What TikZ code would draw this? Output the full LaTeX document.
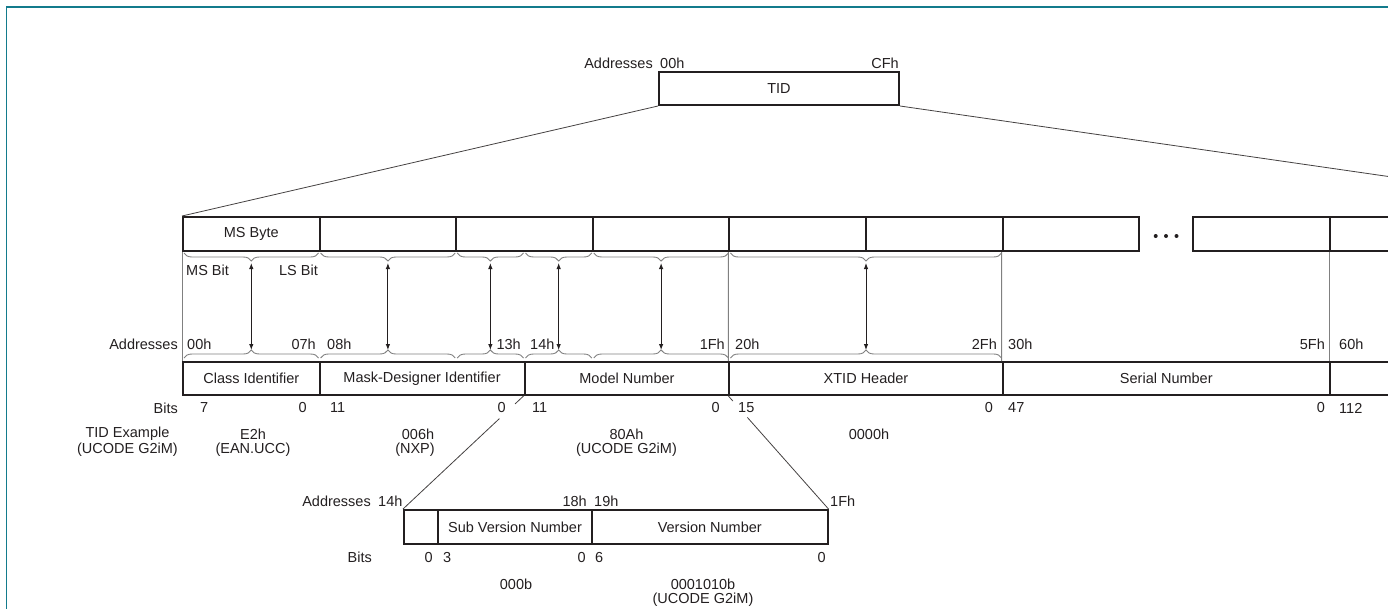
\documentclass[tikz,border=0pt]{standalone}
\usepackage{fontspec}
\setmainfont{Liberation Sans}
\usetikzlibrary{decorations.pathreplacing,calc,arrows.meta}
\definecolor{ink}{HTML}{231F20}
\definecolor{gline}{HTML}{808080}
\definecolor{framec}{HTML}{137B8C}
\begin{document}
\begin{tikzpicture}[x=1pt,y=-1pt, font=\fontsize{14.5}{17}\selectfont, text=ink,
  box/.style={draw=ink, line width=2pt, minimum height=34pt, inner sep=0pt},
  lb/.style={inner sep=0pt},
  gl/.style={draw=gline, line width=0.9pt},
  cn/.style={draw=ink!85, line width=0.8pt},
  brc/.style={draw=gline, line width=0.9pt, decorate},
  arr/.style={{Latex[length=6pt,width=4.5pt]}-{Latex[length=6pt,width=4.5pt]}, draw=ink, line width=0.9pt},
  framel/.style={draw=framec, line width=1.6pt}]
\useasboundingbox (0,0) rectangle (1388,608);
\clip (0,0) rectangle (1388,608);
% frame
\draw[framel] (6.5,620) -- (6.5,7) -- (1400,7);
% TID
\node[box, minimum width=240pt, minimum height=33pt] (tid) at (779,88.5) {TID};
\node[lb, anchor=east] (ta) at (653,63) {Addresses};
\node[lb, anchor=west] (t0) at (660,63) {00h};
\node[lb, anchor=east] (t1) at (899,63) {CFh};
% byte row
\node[box, minimum width=136.6pt] (b1) at (251.3,234) {MS Byte};
\node[box, minimum width=136.6pt] (b2) at (387.9,234) {};
\node[box, minimum width=136.6pt] (b3) at (524.5,234) {};
\node[box, minimum width=136.6pt] (b4) at (661.1,234) {};
\node[box, minimum width=136.6pt] (b5) at (797.7,234) {};
\node[box, minimum width=136.6pt] (b6) at (934.3,234) {};
\node[box, minimum width=136.6pt] (b7) at (1070.9,234) {};
\node[box, minimum width=137pt] (b8) at (1261.5,234) {};
\node[box, minimum width=136.6pt] (b9) at (1398.3,234) {};
\fill[ink] (1155.7,236) circle (2pt) (1166,236) circle (2pt) (1176.5,236) circle (2pt);
% connectors from TID
\coordinate (rc) at (1669,217);
\draw[cn] (tid.south west) -- (b1.north west);
\draw[cn] (tid.south east) -- (rc);
% field row
\node[box, minimum width=136.6pt, minimum height=33pt] (f1) at (251.3,378.5) {Class Identifier};
\node[box, minimum width=204.9pt, minimum height=33pt] (f2) at (422.05,378.5) {Mask-Designer Identifier};
\node[box, minimum width=204.9pt, minimum height=33pt] (f3) at (626.95,378.5) {Model Number};
\node[box, minimum width=273.2pt, minimum height=33pt] (f4) at (866,378.5) {XTID Header};
\node[box, minimum width=327.4pt, minimum height=33pt] (f5) at (1166.3,378.5) {Serial Number};
\node[box, minimum width=136.6pt, minimum height=33pt] (f6) at (1398.3,378.5) {};
% gray verticals
\draw[gl] (b1.south west) -- (f1.north west);
\draw[gl] (b5.south west) -- (f4.north west);
\draw[gl] (b7.south west) -- (f5.north west);
\draw[gl] (b9.south west) -- (f6.north west);
% braces and arrows
\foreach \a/\b [count=\i] in {183/319.6, 319.6/456.2, 456.2/524.5, 524.5/592.8, 592.8/729.4, 729.4/1002.6} {
  \draw[brc, decoration={brace, amplitude=8pt, mirror}] (\a+1,253) -- (\b-1,253);
  \draw[brc, decoration={brace, amplitude=8pt}] (\a+1,358) -- (\b-1,358);
  \coordinate (u\i) at ({(\a+\b)/2},263);
  \coordinate (l\i) at ({(\a+\b)/2},350);
  \draw[arr] (u\i) -- (l\i);
}
\node[lb, anchor=west] (msb) at (186,270) {MS Bit};
\node[lb, anchor=east] (lsb) at (318,270) {LS Bit};
% address row
\node[lb, anchor=east] (aa) at (178,344) {Addresses};
\node[lb, anchor=west] (a1) at (187,344) {00h};
\node[lb, anchor=east] (a2) at (316,344) {07h};
\node[lb, anchor=west] (a3) at (327,344) {08h};
\node[lb, anchor=east] (a4) at (521,344) {13h};
\node[lb, anchor=west] (a5) at (530,344) {14h};
\node[lb, anchor=east] (a6) at (725,344) {1Fh};
\node[lb, anchor=west] (a7) at (735,344) {20h};
\node[lb, anchor=east] (a8) at (997,344) {2Fh};
\node[lb, anchor=west] (a9) at (1008,344) {30h};
\node[lb, anchor=east] (a10) at (1325,344) {5Fh};
\node[lb, anchor=west] (a11) at (1339,344) {60h};
% bits row
\node[lb, anchor=east] (bb) at (178,408) {Bits};
\node[lb, anchor=west] (n1) at (200,408) {7};
\node[lb, anchor=east] (n2) at (307,408) {0};
\node[lb, anchor=west] (n3) at (330,408) {11};
\node[lb, anchor=east] (n4) at (506,408) {0};
\node[lb, anchor=west] (n5) at (532,408) {11};
\node[lb, anchor=east] (n6) at (720,408) {0};
\node[lb, anchor=west] (n7) at (738,408) {15};
\node[lb, anchor=east] (n8) at (993,408) {0};
\node[lb, anchor=west] (n9) at (1008,408) {47};
\node[lb, anchor=east] (n10) at (1325,408) {0};
\node[lb, anchor=west] (n11) at (1339,408) {112};
% TID example
\node[lb] (e0) at (127.5,434) {TID Example};
\node[lb] (e0b) at (127.5,450) {(UCODE G2iM)};
\node[lb] (e1) at (253,434) {E2h};
\node[lb] (e1b) at (253,450) {(EAN.UCC)};
\node[lb] (e2) at (418,434) {006h};
\node[lb] (e2b) at (415,450) {(NXP)};
\node[lb] (e3) at (626.5,434) {80Ah};
\node[lb] (e3b) at (626.5,450) {(UCODE G2iM)};
\node[lb] (e4) at (869,434) {0000h};
% sub box
\node[box, minimum width=34pt] (s1) at (421,527) {};
\node[box, minimum width=154pt] (s2) at (515,527) {Sub Version Number};
\node[box, minimum width=235.5pt] (s3) at (709.75,527) {Version Number};
\draw[cn] (f3.south west) -- ($(f3.south west)!0.07!(s1.north west)$);
\draw[cn] ($(f3.south west)!0.2!(s1.north west)$) -- (s1.north west);
\draw[cn] (f4.south west) -- ($(f4.south west)!0.045!(s3.north east)$);
\draw[cn] ($(f4.south west)!0.19!(s3.north east)$) -- (s3.north east);
\node[lb, anchor=east] (sa) at (371,501) {Addresses};
\node[lb, anchor=west] (sa1) at (378,501) {14h};
\node[lb, anchor=east] (sa2) at (587,501) {18h};
\node[lb, anchor=west] (sa3) at (594,501) {19h};
\node[lb, anchor=west] (sa4) at (830,501) {1Fh};
\node[lb, anchor=east] (sb) at (372,557) {Bits};
\node[lb, anchor=east] (sb1) at (433,557) {0};
\node[lb, anchor=west] (sb2) at (443,557) {3};
\node[lb, anchor=east] (sb3) at (586,557) {0};
\node[lb, anchor=west] (sb4) at (595,557) {6};
\node[lb, anchor=east] (sb5) at (826,557) {0};
\node[lb] (se1) at (516,584) {000b};
\node[lb] (se2) at (703,584) {0001010b};
\node[lb] (se3) at (703,600) {(UCODE G2iM)};
\end{tikzpicture}
\end{document}
